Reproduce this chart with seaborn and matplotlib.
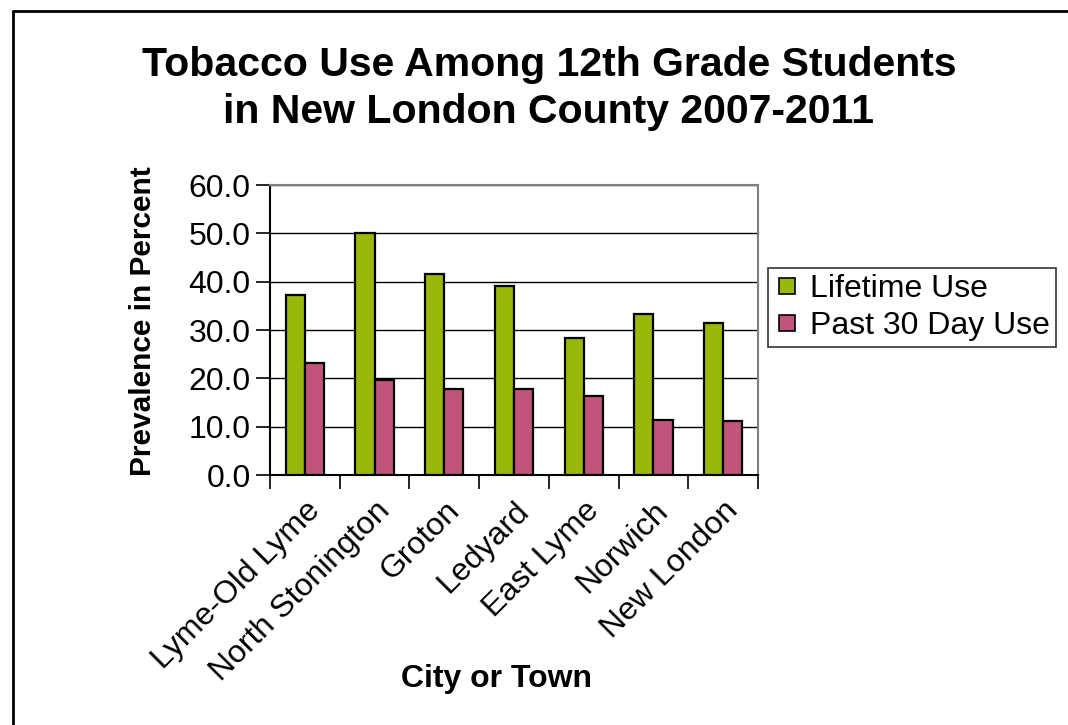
import pandas as pd
import numpy as np
import matplotlib
matplotlib.use('Agg')
import matplotlib.pyplot as plt
import seaborn as sns
from matplotlib.lines import Line2D

# 数据
towns = ['Lyme-Old Lyme', 'North Stonington', 'Groton', 'Ledyard',
         'East Lyme', 'Norwich', 'New London']
lifetime_use = [37.3, 50.1, 41.5, 39.2, 28.3, 33.4, 31.5]
past30_use = [23.2, 19.6, 17.7, 17.7, 16.3, 11.4, 11.1]
series_names = ['Lifetime Use', 'Past 30 Day Use']
yticks = [0, 10, 20, 30, 40, 50, 60]

df = pd.DataFrame({
    'town': towns * 2,
    'series': [series_names[0]] * len(towns) + [series_names[1]] * len(towns),
    'value': lifetime_use + past30_use,
})

sns.set_style('white')
plt.rcParams['font.family'] = ['Liberation Sans', 'DejaVu Sans']
plt.rcParams['text.color'] = 'black'
plt.rcParams['axes.labelcolor'] = 'black'
plt.rcParams['xtick.color'] = 'black'
plt.rcParams['ytick.color'] = 'black'

fig = plt.figure(figsize=(10.68, 7.25), dpi=100)
ax = fig.add_axes([0.2528, 0.3448, 0.4569, 0.4])

palette = {'Lifetime Use': '#99B80B', 'Past 30 Day Use': '#C0547A'}
sns.barplot(data=df, x='town', y='value', hue='series', palette=palette,
            width=0.55, edgecolor='black', linewidth=1.6, saturation=1,
            ax=ax, zorder=3, legend=False)

ax.set_ylim(0, 60)
ax.set_xlim(-0.5, len(towns) - 0.5)
ax.set_yticks(yticks)
ax.set_yticklabels([f'{v:.1f}' for v in yticks], fontsize=23)
ax.yaxis.grid(True, color='black', linewidth=1.0, zorder=0)
ax.set_axisbelow(True)

# x 刻度：标签在类别中心，刻度线在类别边界
ax.set_xticks(range(len(towns)))
ax.set_xticklabels(towns, fontsize=23, rotation=45, ha='right', rotation_mode='anchor')
ax.tick_params(axis='x', which='major', length=0, pad=15)
ax.set_xticks(np.arange(-0.5, len(towns), 1), minor=True)
ax.tick_params(axis='x', which='minor', length=10, width=1.2, color='black', direction='out', bottom=True)
ax.tick_params(axis='y', length=10, width=1.2, color='black', direction='out', left=True, pad=4)

for s in ['left', 'bottom']:
    ax.spines[s].set_color('black')
    ax.spines[s].set_linewidth(1.5)
for s in ['top', 'right']:
    ax.spines[s].set_color('#808080')
    ax.spines[s].set_linewidth(1.5)

ax.set_xlabel('City or Town', fontsize=23, fontweight='bold')
ax.xaxis.set_label_coords((497 - 270) / 488, (475 - 664) / 290)
ax.set_ylabel('Prevalence in Percent', fontsize=21.5, fontweight='bold')
ax.yaxis.set_label_coords((157 - 270) / 488, (475 - 321) / 290)

fig.text(0.514, 0.91, 'Tobacco Use Among 12th Grade Students', ha='center', va='center',
         fontsize=29.5, fontweight='bold')
fig.text(0.514, 0.846, 'in New London County 2007-2011', ha='center', va='center',
         fontsize=29.5, fontweight='bold')

handles = [Line2D([0], [0], marker='s', linestyle='none', markersize=12,
                  markerfacecolor=palette[n], markeredgecolor='black', markeredgewidth=1.2)
           for n in series_names]
leg = fig.legend(handles, series_names, loc='upper left', bbox_to_anchor=(768 / 1068, 1 - 268 / 725),
                 fontsize=23, frameon=True, fancybox=False, edgecolor='black',
                 handlelength=0.8, handletextpad=0.3, borderpad=0.2, labelspacing=0.2,
                 borderaxespad=0)
leg.get_frame().set_linewidth(1.2)

# 外框
fig.add_artist(Line2D([13 / 1068, 13 / 1068], [0, 1 - 11 / 725], transform=fig.transFigure,
                      color='black', linewidth=2))
fig.add_artist(Line2D([13 / 1068, 1], [1 - 11 / 725, 1 - 11 / 725], transform=fig.transFigure,
                      color='black', linewidth=2))

fig.savefig('out.png', dpi=100)
